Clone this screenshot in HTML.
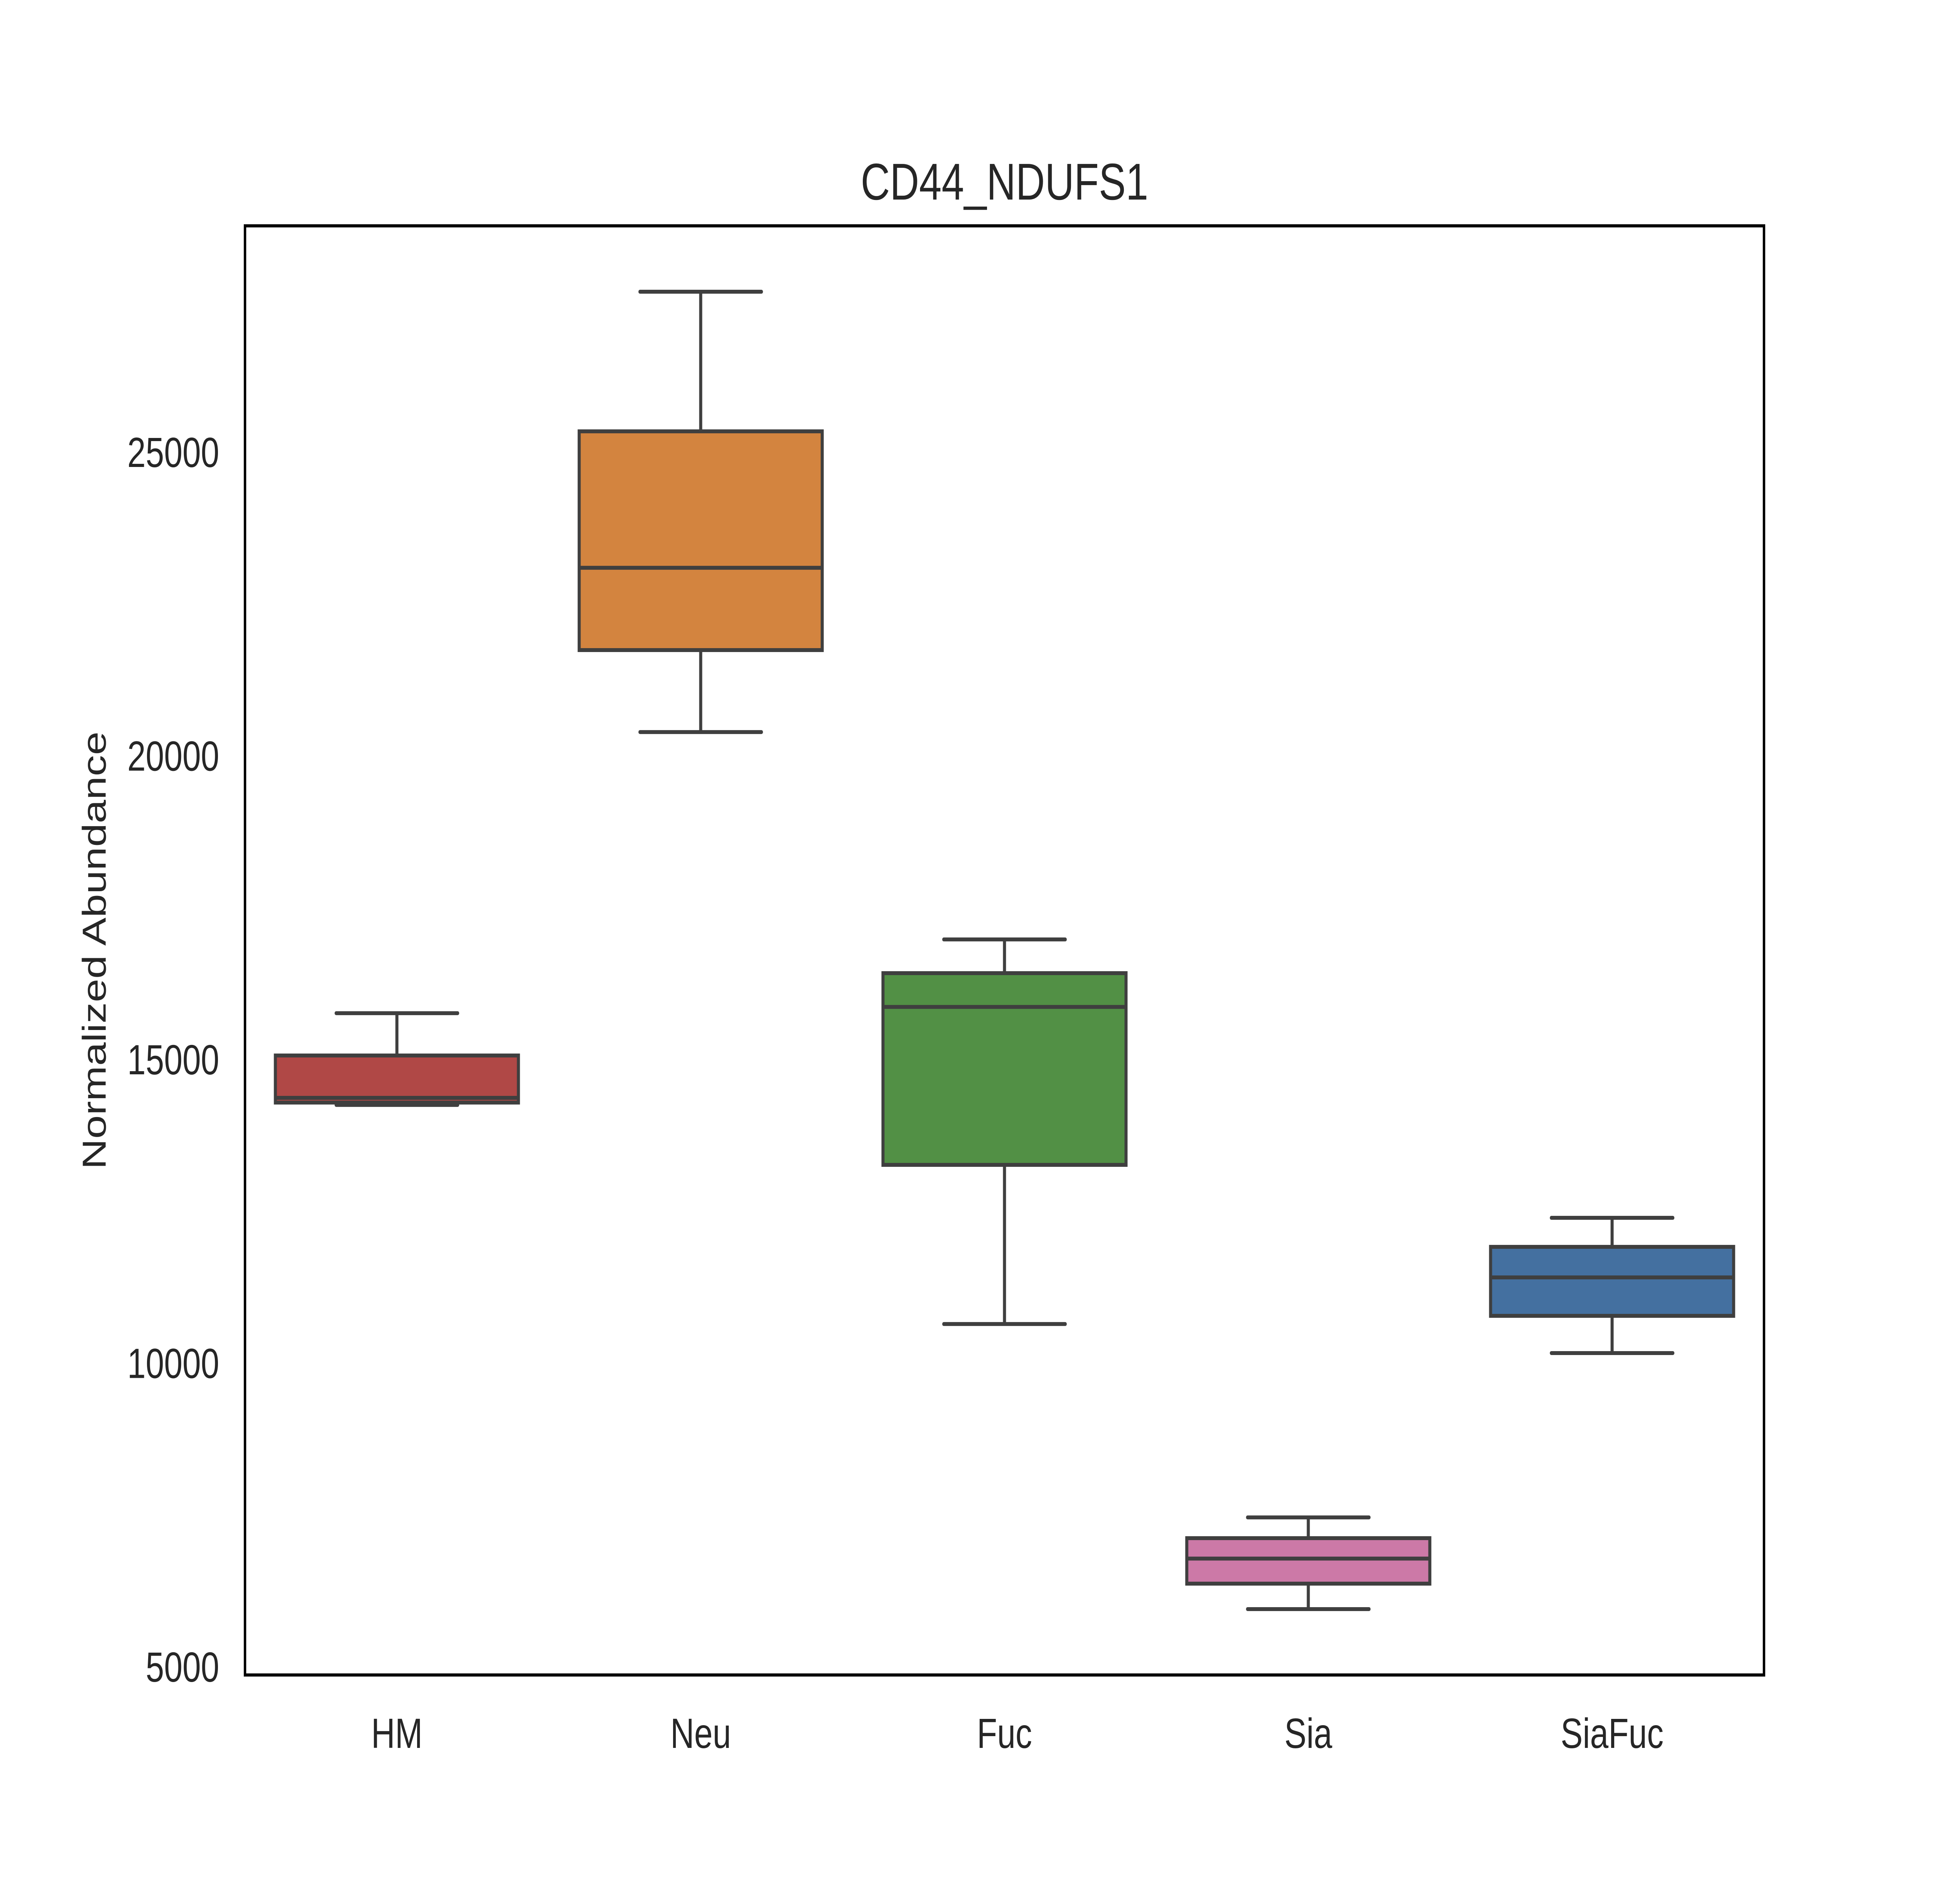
<!DOCTYPE html>
<html><head><meta charset="utf-8"><style>
html,body{margin:0;padding:0;background:#fff;overflow:hidden;width:100vw;height:100vh;}
svg{display:block;width:100vw;height:100vh;}
text{font-family:"Liberation Sans",Arial,sans-serif;fill:#262626;}
</style></head><body>
<svg id="chart" viewBox="0 0 6400 4800" preserveAspectRatio="none" xmlns="http://www.w3.org/2000/svg">
<rect x="0" y="0" width="6400" height="4800" fill="#fff"/>
<text x="3280" y="509" font-size="132" text-anchor="middle">CD44_NDUFS1</text>
<text transform="translate(345,2424) rotate(-90)" font-size="108" text-anchor="middle">Normalized Abundance</text>
<g id="marks"></g>
<g id="ticks"></g>
<rect x="800" y="576" width="4960" height="3696" fill="none" stroke="#000" stroke-width="8"/>
</svg>
<script>
const categories = ["HM","Neu","Fuc","Sia","SiaFuc"];
const whiskerHigh = [15762, 27642, 16976, 7459, 12392];
const q3Values = [15065, 25343, 16421, 7117, 11914];
const medianValues = [14368, 23096, 15865, 6781, 11411];
const q1Values = [14290, 21741, 13264, 6368, 10778];
const whiskerLow = [14251, 20391, 10643, 5949, 10165];
const boxColors = ["#b04846","#d3843f","#529045","#cc79a7","#4470a0"];
const yTicks = [5000, 10000, 15000, 20000, 25000];
const yTickLabels = ["5000","10000","15000","20000","25000"];

const AX = {left:800, right:5760, top:576, bottom:4272};
const yMin = 4864, yMax = 28727;
function yScale(v){ return AX.bottom - (v - yMin) / (yMax - yMin) * (AX.bottom - AX.top); }
const band = (AX.right - AX.left) / categories.length;
function xCenter(i){ return AX.left + band * (i + 0.5); }

const NS = "http://www.w3.org/2000/svg";
function mk(tag, attrs, parent){
  const el = document.createElementNS(NS, tag);
  for (const k in attrs) el.setAttribute(k, attrs[k]);
  parent.appendChild(el);
  return el;
}
const marks = document.getElementById('marks');
const ticks = document.getElementById('ticks');
const LC = "#3f3f3f", LW = 10;

categories.forEach((c, i) => {
  const cx = xCenter(i);
  const bw = band * 0.8;
  const capW = bw / 2;
  const g = mk('g', {}, marks);
  
  
  const wu = mk('line', {x1:cx, x2:cx, y1:yScale(whiskerHigh[i]), y2:yScale(q3Values[i]), stroke:LC, 'stroke-width':LW}, g);
  
  
  const wl = mk('line', {x1:cx, x2:cx, y1:yScale(q1Values[i]), y2:yScale(whiskerLow[i]), stroke:LC, 'stroke-width':LW}, g);
  
  
  const cu = mk('line', {x1:cx-capW/2, x2:cx+capW/2, y1:yScale(whiskerHigh[i]), y2:yScale(whiskerHigh[i]), stroke:LC, 'stroke-width':LW, 'stroke-linecap':'round'}, g);
  
  
  const cl = mk('line', {x1:cx-capW/2, x2:cx+capW/2, y1:yScale(whiskerLow[i]), y2:yScale(whiskerLow[i]), stroke:LC, 'stroke-width':LW, 'stroke-linecap':'round'}, g);
  
  
  const yq3 = yScale(q3Values[i]), yq1 = yScale(q1Values[i]);
  const r = mk('rect', {x:cx-bw/2, y:yq3, width:bw, height:Math.max(1, yq1-yq3), fill:boxColors[i], stroke:LC, 'stroke-width':LW}, g);
  
  
  const m = mk('line', {x1:cx-bw/2, x2:cx+bw/2, y1:yScale(medianValues[i]), y2:yScale(medianValues[i]), stroke:LC, 'stroke-width':LW}, g);
  
  
  const t = mk('text', {x:cx, y:4458, 'font-size':108, 'text-anchor':'middle'}, ticks);
  t.textContent = c;
  
  
});

yTicks.forEach((v, i) => {
  const t = mk('text', {x:716, y:yScale(v) + 38, 'font-size':108, 'text-anchor':'end'}, ticks);
  t.textContent = yTickLabels[i];
  
  
});
</script>
</body></html>
